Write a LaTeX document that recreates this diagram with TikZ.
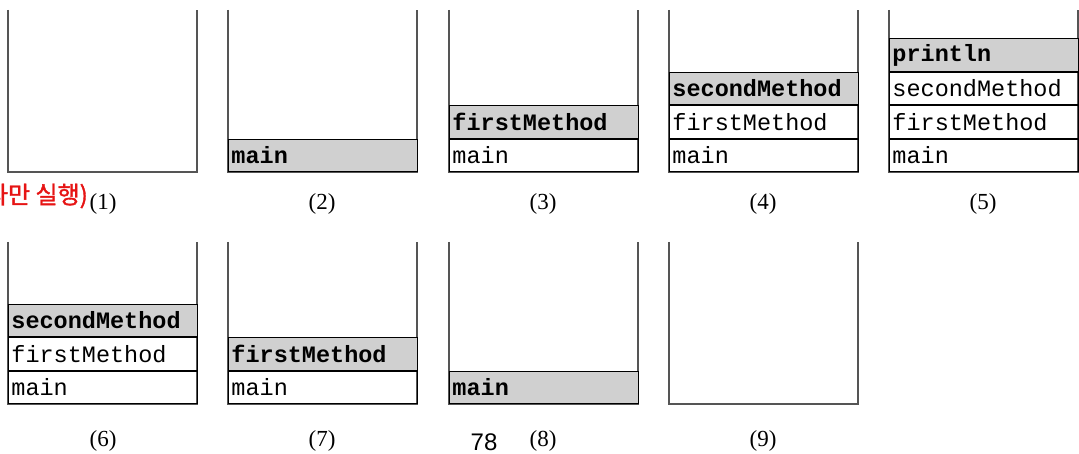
\documentclass[tikz,border=0pt]{standalone}
\usepackage{fontspec}
\setmainfont{Liberation Serif}
\setmonofont{Liberation Mono}
\newfontfamily\kofont{Noto Sans CJK KR}[FakeBold=1.5]
\newfontfamily\pagefont{Liberation Sans}
\usepackage{xcolor}
\definecolor{stackwall}{RGB}{85,85,85}
\definecolor{topgray}{RGB}{208,208,208}
\definecolor{notered}{RGB}{230,20,20}
\usetikzlibrary{positioning}

\begin{document}
\begin{tikzpicture}[x=1pt, y=-1pt,
  wall/.style={stackwall, line width=1.8pt},
  cell/.style={draw=black, line width=0.9pt, anchor=south west, minimum width=189pt, minimum height=32.5pt, text width=183pt, inner xsep=3pt, inner ysep=0pt, align=left, font=\fontsize{23.5}{24}\ttfamily},
  topcell/.style={cell, fill=topgray, font=\fontsize{23.5}{24}\ttfamily\bfseries},
  steplabel/.style={font=\fontsize{23}{25}\selectfont}]
  \useasboundingbox (0,0) rectangle (1079,454);

  % Stack walls, top row
  \foreach \x in {8,228,449,669,889}
    \draw[wall] (\x,10) -- (\x,172) -- ({\x+189},172) -- ({\x+189},10);
  % Stack walls, bottom row
  \foreach \x in {8,228,449,669}
    \draw[wall] (\x,242) -- (\x,404) -- ({\x+189},404) -- ({\x+189},242);

  % (2)
  \node[topcell] (s2main) at (228,172) {main};
  % (3)
  \node[cell] (s3main) at (449,172) {main};
  \node[topcell, above=0pt of s3main.north west, anchor=south west] (s3first) {firstMethod};
  % (4)
  \node[cell] (s4main) at (669,172) {main};
  \node[cell, above=0pt of s4main.north west, anchor=south west] (s4first) {firstMethod};
  \node[topcell, above=0pt of s4first.north west, anchor=south west] (s4second) {secondMethod};
  % (5)
  \node[cell] (s5main) at (889,172) {main};
  \node[cell, above=0pt of s5main.north west, anchor=south west] (s5first) {firstMethod};
  \node[cell, above=0pt of s5first.north west, anchor=south west] (s5second) {secondMethod};
  \node[topcell, above=0pt of s5second.north west, anchor=south west] (s5print) {println};
  % (6)
  \node[cell] (s6main) at (8,404) {main};
  \node[cell, above=0pt of s6main.north west, anchor=south west] (s6first) {firstMethod};
  \node[topcell, above=0pt of s6first.north west, anchor=south west] (s6second) {secondMethod};
  % (7)
  \node[cell] (s7main) at (228,404) {main};
  \node[topcell, above=0pt of s7main.north west, anchor=south west] (s7first) {firstMethod};
  % (8)
  \node[topcell] (s8main) at (449,404) {main};

  % Step labels
  \node[steplabel] (lab1) at (103,204) {(1)};
  \node[steplabel] (lab2) at (322,204) {(2)};
  \node[steplabel] (lab3) at (543,204) {(3)};
  \node[steplabel] (lab4) at (763,204) {(4)};
  \node[steplabel] (lab5) at (983,204) {(5)};
  \node[steplabel] (lab6) at (103,441) {(6)};
  \node[steplabel] (lab7) at (322,441) {(7)};
  \node[steplabel] (lab8) at (543,441) {(8)};
  \node[steplabel] (lab9) at (763,441) {(9)};

  % Red note cut at the left edge, page number
  \node[anchor=east, inner sep=0pt, text=notered, font=\fontsize{24}{26}\kofont] (note) at (88,196) {라만 실행)};
  \node[font=\fontsize{24}{26}\pagefont] (pageno) at (484,442) {78};
\end{tikzpicture}
\end{document}
